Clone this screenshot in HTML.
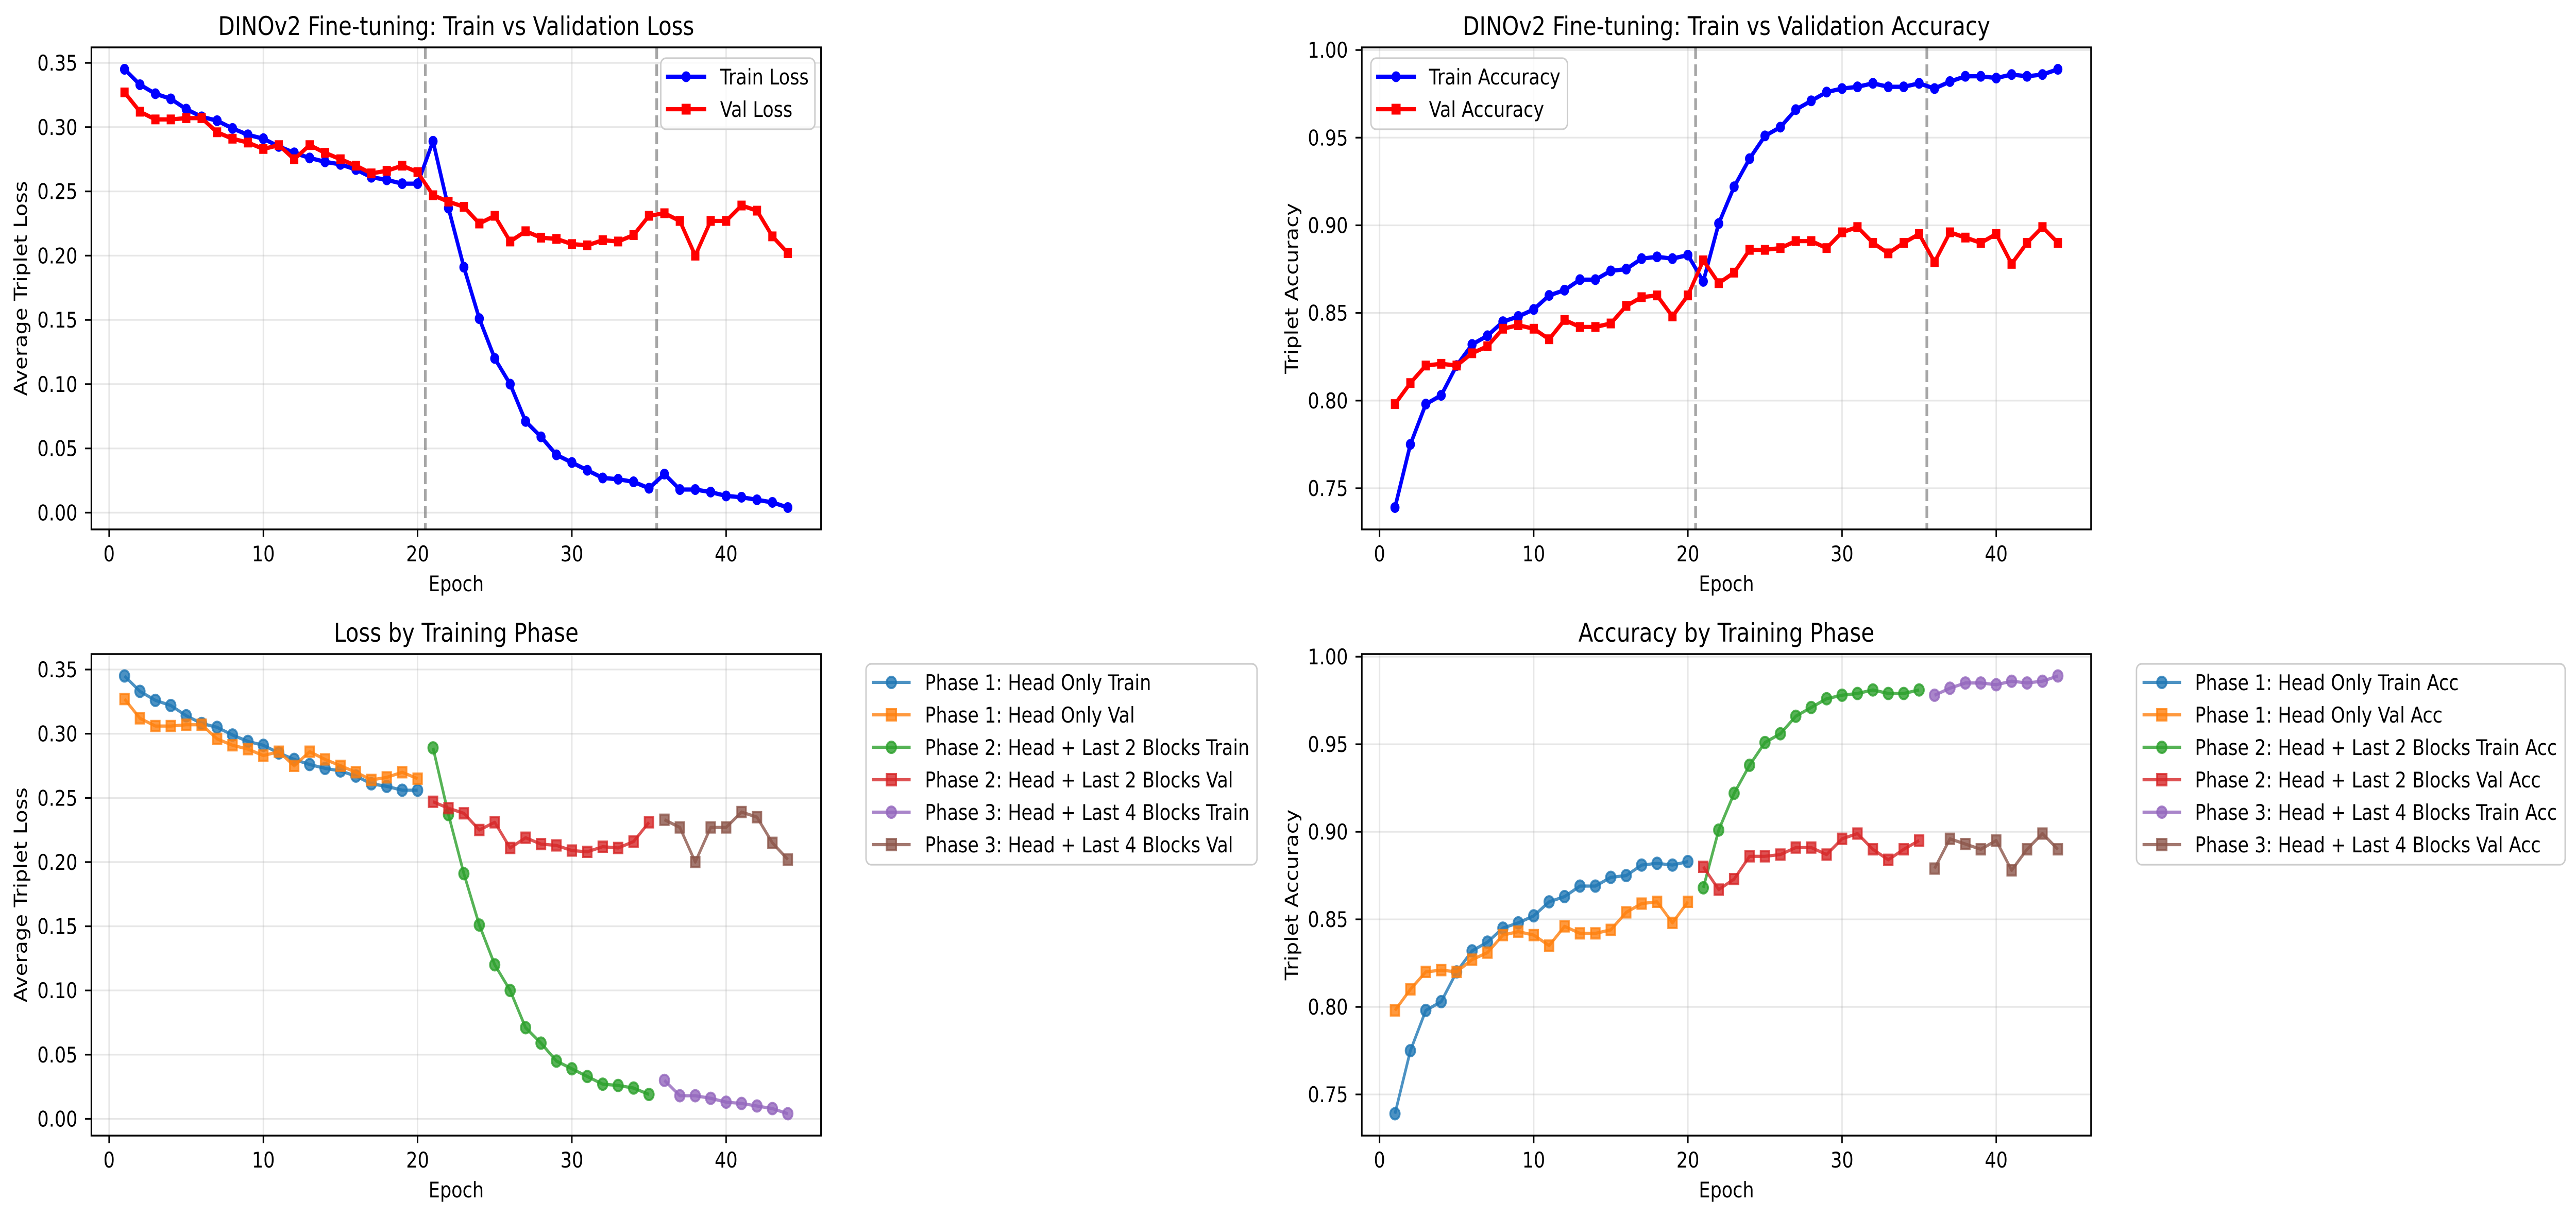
<!DOCTYPE html>
<html><head><meta charset="utf-8">
<style>
html,body{margin:0;padding:0;background:#fff;overflow:hidden;width:100%;height:100%;}
svg{display:block;width:100vw;height:100vh;font-family:"DejaVu Sans","Liberation Sans",sans-serif;}
</style></head>
<body>
<svg id="fig" xmlns="http://www.w3.org/2000/svg" viewBox="0 0 5949 2365" preserveAspectRatio="none"></svg>
<script>
const epochs = [1,2,3,4,5,6,7,8,9,10,11,12,13,14,15,16,17,18,19,20,21,22,23,24,25,26,27,28,29,30,31,32,33,34,35,36,37,38,39,40,41,42,43,44];
const trainLoss = [.345,.333,.326,.322,.314,.308,.305,.299,.294,.291,.285,.280,.276,.273,.271,.267,.261,.259,.256,.256,.289,.237,.191,.151,.120,.100,.071,.059,.045,.039,.033,.027,.026,.024,.019,.030,.018,.018,.016,.013,.012,.010,.008,.004];
const valLoss = [.327,.312,.306,.306,.307,.307,.296,.291,.288,.283,.286,.275,.286,.280,.275,.270,.264,.266,.270,.265,.247,.242,.238,.225,.231,.211,.219,.214,.213,.209,.208,.212,.211,.216,.231,.233,.227,.200,.227,.227,.239,.235,.215,.202];
const trainAcc = [.739,.775,.798,.803,.820,.832,.837,.845,.848,.852,.860,.863,.869,.869,.874,.875,.881,.882,.881,.883,.868,.901,.922,.938,.951,.956,.966,.971,.976,.978,.979,.981,.979,.979,.981,.978,.982,.985,.985,.984,.986,.985,.986,.989];
const valAcc = [.798,.810,.820,.821,.820,.827,.831,.841,.843,.841,.835,.846,.842,.842,.844,.854,.859,.860,.848,.860,.880,.867,.873,.886,.886,.887,.891,.891,.887,.896,.899,.890,.884,.890,.895,.879,.896,.893,.890,.895,.878,.890,.899,.890];
const phaseEnds = [20,35,44];
const phaseBoundaries = [20.5,35.5];
const xTicks = [0,10,20,30,40];
const lossTicks = [0,0.05,0.10,0.15,0.20,0.25,0.30,0.35];
const accTicks = [0.75,0.80,0.85,0.90,0.95,1.00];
const phaseNames = ["Phase 1: Head Only","Phase 2: Head + Last 2 Blocks","Phase 3: Head + Last 4 Blocks"];
const phaseColors = ["#1f77b4","#ff7f0e","#2ca02c","#d62728","#9467bd","#8c564b"];

const NS="http://www.w3.org/2000/svg";
const fig=document.getElementById('fig');
function mk(tag,attrs,parent){const e=document.createElementNS(NS,tag);for(const k in attrs)e.setAttribute(k,attrs[k]);(parent||fig).appendChild(e);return e;}
function fmt(v){return v.toFixed(2);}

function makeAxes(box,ys,ticks,title,ylabel,labelX){
  const all=[].concat(...ys);
  let mn=Math.min(...all),mx=Math.max(...all),r=mx-mn;
  const ymin=mn-0.05*r,ymax=mx+0.05*r;
  const xr=epochs[epochs.length-1]-epochs[0];
  const xmin=epochs[0]-0.05*xr,xmax=epochs[epochs.length-1]+0.05*xr;
  const ax={box,X:v=>box.x0+(v-xmin)/(xmax-xmin)*(box.x1-box.x0),Y:v=>box.y1-(v-ymin)/(ymax-ymin)*(box.y1-box.y0)};
  const g=mk('g',{});
  
  
  ax.g=g;
  const grid=mk('g',{},g);
  
  
  xTicks.forEach(t=>{const x=ax.X(t);
    mk('line',{x1:x,x2:x,y1:box.y0,y2:box.y1,stroke:'#b0b0b0','stroke-opacity':0.3,'stroke-width':3.3},grid);
    mk('line',{x1:x,x2:x,y1:box.y1,y2:box.y1+14.6,stroke:'#000','stroke-width':3.3},g);
    const tx=mk('text',{x:x,y:box.y1+62,'font-size':41.7,'text-anchor':'middle',fill:'#000'},g);tx.textContent=t;
    
    
  });
  ticks.forEach(t=>{const y=ax.Y(t);
    mk('line',{x1:box.x0,x2:box.x1,y1:y,y2:y,stroke:'#b0b0b0','stroke-opacity':0.3,'stroke-width':3.3},grid);
    mk('line',{x1:box.x0-14.6,x2:box.x0,y1:y,y2:y,stroke:'#000','stroke-width':3.3},g);
    const tx=mk('text',{x:box.x0-32,y:y+15,'font-size':41.7,'text-anchor':'end',fill:'#000'},g);tx.textContent=fmt(t);
    
    
  });
  const cx=(box.x0+box.x1)/2;
  const tt=mk('text',{x:cx,y:box.y0-24,'font-size':50,'text-anchor':'middle',fill:'#000'},g);tt.textContent=title;
  
  
  const xl=mk('text',{x:cx,y:box.y1+120,'font-size':41.7,'text-anchor':'middle',fill:'#000'},g);xl.textContent='Epoch';
  
  
  const cy=(box.y0+box.y1)/2;
  const yl=mk('text',{x:labelX,y:cy,'font-size':41.7,'text-anchor':'middle',fill:'#000',transform:`rotate(-90 ${labelX} ${cy})`},g);yl.textContent=ylabel;
  
  
  const clip='clip'+box.name;
  const cp=mk('clipPath',{id:clip},g);mk('rect',{x:box.x0,y:box.y0,width:box.x1-box.x0,height:box.y1-box.y0},cp);
  ax.plot=mk('g',{'clip-path':`url(#${clip})`},g);
  ax.frame=()=>{const f=mk('rect',{x:box.x0,y:box.y0,width:box.x1-box.x0,height:box.y1-box.y0,fill:'none',stroke:'#000','stroke-width':3.5},g);
    
    };
  return ax;
}

function marker(parent,kind,x,y,size,color,alpha){
  let m;
  if(kind==='o') m=mk('circle',{cx:x,cy:y,r:size/2,fill:color,stroke:color,'stroke-width':4,'fill-opacity':alpha,'stroke-opacity':alpha},parent);
  else m=mk('rect',{x:x-size/2,y:y-size/2,width:size,height:size,fill:color,stroke:color,'stroke-width':4,'fill-opacity':alpha,'stroke-opacity':alpha},parent);
  return m;
}

function series(ax,xs,vs,color,kind,lw,ms,alpha,name){
  const g=mk('g',{},ax.plot);
  
  
  const pts=xs.map((x,i)=>ax.X(x)+','+ax.Y(vs[i])).join(' ');
  mk('polyline',{points:pts,fill:'none',stroke:color,'stroke-width':lw,'stroke-opacity':alpha,'stroke-linejoin':'round','stroke-linecap':'butt'},g);
  xs.forEach((x,i)=>{const m=marker(g,kind,ax.X(x),ax.Y(vs[i]),ms,color,alpha);
    
    });
}

function legend(x0,y0,entries,lineX0,lineX1,textX,spacing,lw,ms,alpha,name,fixedRight){
  const g=mk('g',{});
  
  
  const box=mk('rect',{x:x0,y:y0,width:fixedRight-x0,height:entries.length*spacing+12,rx:12,fill:'#fff','fill-opacity':0.8,stroke:'#cccccc','stroke-width':3.3},g);
  entries.forEach((e,i)=>{const y=y0+36+i*spacing;
    const eg=mk('g',{},g);
    
    
    mk('line',{x1:lineX0,x2:lineX1,y1:y,y2:y,stroke:e.c,'stroke-width':lw,'stroke-opacity':alpha},eg);
    marker(eg,e.m,(lineX0+lineX1)/2,y,ms,e.c,alpha);
    const t=mk('text',{x:textX,y:y+15,'font-size':41.7,fill:'#000'},eg);t.textContent=e.t;
  });
}

function phaseSlices(){const out=[];let s=0;phaseEnds.forEach(e=>{const idx=[];epochs.forEach((ep,i)=>{if(ep>s&&ep<=e)idx.push(i);});out.push(idx);s=e;});return out;}

const A1=makeAxes({name:'loss-chart',x0:211,x1:1896,y0:92,y1:1028},[trainLoss,valLoss],lossTicks,'DINOv2 Fine-tuning: Train vs Validation Loss','Average Triplet Loss',62);
const A2=makeAxes({name:'accuracy-chart',x0:3145,x1:4829,y0:92,y1:1028},[trainAcc,valAcc],accTicks,'DINOv2 Fine-tuning: Train vs Validation Accuracy','Triplet Accuracy',2997);
const A3=makeAxes({name:'loss-by-phase-chart',x0:211,x1:1896,y0:1270,y1:2205},[trainLoss,valLoss],lossTicks,'Loss by Training Phase','Average Triplet Loss',62);
const A4=makeAxes({name:'accuracy-by-phase-chart',x0:3145,x1:4829,y0:1270,y1:2205},[trainAcc,valAcc],accTicks,'Accuracy by Training Phase','Triplet Accuracy',2997);

[A1,A2].forEach(ax=>{phaseBoundaries.forEach(b=>{const x=ax.X(b);
  const l=mk('line',{x1:x,x2:x,y1:ax.box.y0,y2:ax.box.y1,stroke:'#808080','stroke-opacity':0.7,'stroke-width':6.25,'stroke-dasharray':'23 10'},ax.plot);
  
  });});

series(A1,epochs,trainLoss,'#0000ff','o',8.3,17,1,'train-loss-line');
series(A1,epochs,valLoss,'#ff0000','s',8.3,15,1,'val-loss-line');
series(A2,epochs,trainAcc,'#0000ff','o',8.3,17,1,'train-accuracy-line');
series(A2,epochs,valAcc,'#ff0000','s',8.3,15,1,'val-accuracy-line');

const slices=phaseSlices();
slices.forEach((idx,p)=>{
  const xs=idx.map(i=>epochs[i]);
  series(A3,xs,idx.map(i=>trainLoss[i]),phaseColors[p*2],'o',6.25,22,0.8,'phase'+(p+1)+'-train-loss');
  series(A3,xs,idx.map(i=>valLoss[i]),phaseColors[p*2+1],'s',6.25,20,0.8,'phase'+(p+1)+'-val-loss');
  series(A4,xs,idx.map(i=>trainAcc[i]),phaseColors[p*2],'o',6.25,22,0.8,'phase'+(p+1)+'-train-acc');
  series(A4,xs,idx.map(i=>valAcc[i]),phaseColors[p*2+1],'s',6.25,20,0.8,'phase'+(p+1)+'-val-acc');
});
[A1,A2,A3,A4].forEach(a=>a.frame());

legend(1526,113,[{t:'Train Loss',c:'#0000ff',m:'o'},{t:'Val Loss',c:'#ff0000',m:'s'}],1538,1631,1663,63,8.3,17,1,'loss-legend',1882);
legend(3166,113,[{t:'Train Accuracy',c:'#0000ff',m:'o'},{t:'Val Accuracy',c:'#ff0000',m:'s'}],3178,3270,3300,63,8.3,17,1,'accuracy-legend',3620);
const e3=[],e4=[];
phaseNames.forEach((n,p)=>{
  e3.push({t:n+' Train',c:phaseColors[p*2],m:'o'});e3.push({t:n+' Val',c:phaseColors[p*2+1],m:'s'});
  e4.push({t:n+' Train Acc',c:phaseColors[p*2],m:'o'});e4.push({t:n+' Val Acc',c:phaseColors[p*2+1],m:'s'});
});
legend(2000,1289,e3,2014,2103,2136,63,6.25,22,0.8,'loss-phase-legend',2903);
legend(4934,1289,e4,4948,5037,5069,63,6.25,22,0.8,'accuracy-phase-legend',5924);
</script>
</body></html>
